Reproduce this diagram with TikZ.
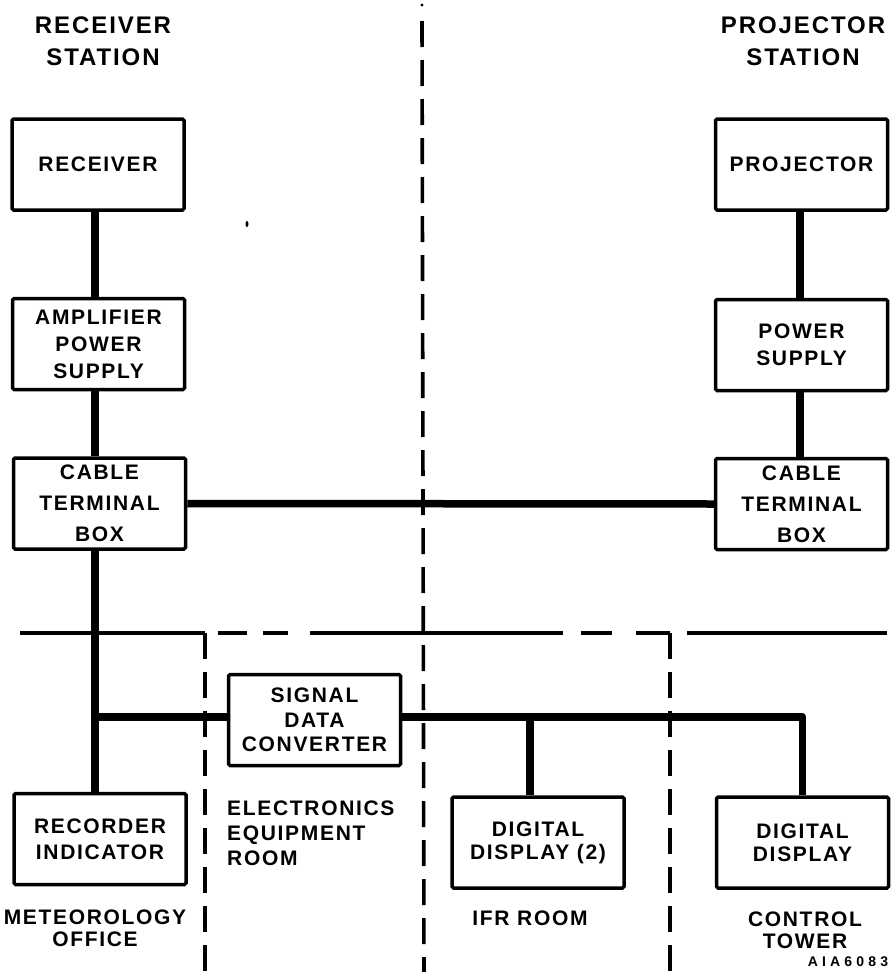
\documentclass[tikz,border=0pt]{standalone}
\usepackage{fontspec}
\newfontfamily\lbl{Liberation Sans}[LetterSpace=8]
\newfontfamily\lbltiny{Liberation Sans}[LetterSpace=30]
\begin{document}
\begin{tikzpicture}[x=1pt,y=-1pt,
  box/.style={draw, line width=3.5pt, rounded corners=1.5pt, inner sep=0pt, align=center,
    minimum width=172pt, minimum height=91pt, font=\lbl\bfseries\fontsize{21}{27}\selectfont},
  ls/.style={font=\lbl\bfseries\fontsize{21}{#1}\selectfont},
  lbltext/.style={inner sep=0pt, align=center, font=\lbl\bfseries\fontsize{21}{22}\selectfont},
  conn/.style={line width=7.5pt},
  bnd/.style={line width=3.2pt},
  dsh/.style={line width=3.6pt, dash pattern=on 26pt off 13pt}
]
\useasboundingbox (0,0) rectangle (892,972);

% helper coordinates
\coordinate (lx) at (95,0);
\coordinate (rx) at (800,0);
\coordinate (hy) at (0,717);
\coordinate (bx) at (530,0);

% titles
\node[lbltext, font=\lbl\bfseries\fontsize{24}{32}\selectfont] (tR) at (103,41) {RECEIVER\\STATION};
\node[lbltext, font=\lbl\bfseries\fontsize{24}{32}\selectfont] (tP) at (803,41) {PROJECTOR\\STATION};

% boxes
\node[box] (rcv) at (98,164.5) {RECEIVER};
\node[box, ls=27] (amp) at (98.5,344) {AMPLIFIER\\POWER\\SUPPLY};
\node[box, ls=31] (cabL) at (99.5,503.5) {CABLE\\TERMINAL\\BOX};
\node[box] (prj) at (801.5,164.5) {PROJECTOR};
\node[box, ls=27] (pwr) at (801.5,345) {POWER\\SUPPLY};
\node[box, ls=31] (cabR) at (801.5,504) {CABLE\\TERMINAL\\BOX};
\node[box, ls=24.5] (sdc) at (314.5,720) {SIGNAL\\DATA\\CONVERTER};
\node[box, ls=26] (rec) at (100,839) {RECORDER\\INDICATOR};
\node[box, ls=23] (dd2) at (538,842.5) {DIGITAL\\DISPLAY (2)};
\node[box, ls=23] (dd) at (802.5,842.5) {DIGITAL\\DISPLAY};

% room labels
\node[lbltext, align=left, anchor=west, font=\lbl\bfseries\fontsize{21}{25}\selectfont] (eer) at (227,833) {ELECTRONICS\\EQUIPMENT\\ROOM};
\node[lbltext] (met) at (95,928.5) {METEOROLOGY\\OFFICE};
\node[lbltext] (ifr) at (530,918) {IFR ROOM};
\node[lbltext] (ctw) at (805,930) {CONTROL\\TOWER};
\node[inner sep=0pt, font=\lbltiny\bfseries\fontsize{14}{15}\selectfont] (code) at (848,962) {AIA6083};

% connectors
\draw[conn] (rcv.south -| lx) -- (amp.north -| lx);
\draw[conn] (amp.south -| lx) -- (cabL.north -| lx);
\draw[conn] (prj.south -| rx) -- (pwr.north -| rx);
\draw[conn] (pwr.south -| rx) -- (cabR.north -| rx);
\draw[conn] (cabL.east) -- (cabR.west);
\draw[conn] (cabL.south -| lx) -- (rec.north -| lx);
\draw[conn] (lx |- hy) -- (sdc.west |- hy);
\draw[conn, line join=round] (sdc.east |- hy) -- (dd.north |- hy) -- (dd.north);
\draw[conn] (bx |- hy) -- (bx |- dd2.north);

% room boundaries
\coordinate (b0) at (20,633);
\coordinate (b1) at (205,633);
\coordinate (b2) at (670,633);
\draw[bnd] (b0) -- (b1);
\draw[dsh] (b1) -- (205,972);
\draw[bnd] (218,633) -- (247,633);
\draw[bnd] (263,633) -- (288,633);
\draw[bnd] (310,633) -- (563,633);
\draw[bnd] (581,633) -- (612,633);
\draw[bnd] (636,633) -- (b2);
\draw[dsh] (b2) -- (670,972);
\draw[bnd] (687,633) -- (887,633);

% central dashed divider
\fill (422,5) circle (1.6);
\draw[dsh] (422,21) -- (424,972);

% stray mark
\fill (247,224) ellipse (1.5 and 3);
\end{tikzpicture}
\end{document}
